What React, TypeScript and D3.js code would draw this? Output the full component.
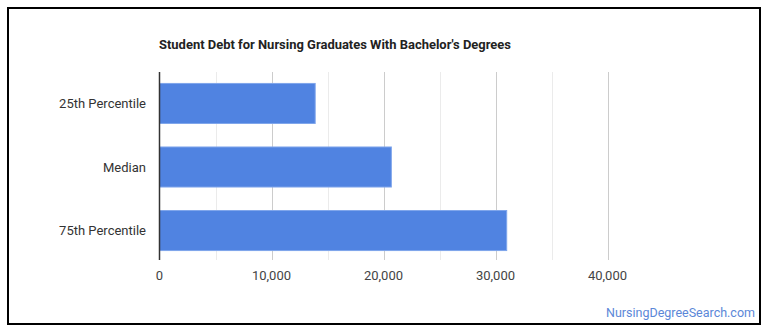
import React from "react";
import * as d3 from "d3";

const title = "Student Debt for Nursing Graduates With Bachelor's Degrees";
const categories = ["25th Percentile", "Median", "75th Percentile"];
const values = [13900, 20700, 31000];
const majorTicks = [0, 10000, 20000, 30000, 40000];
const minorTicks = [5000, 15000, 25000, 35000];
const watermark = "NursingDegreeSearch.com";

export default function App() {
  const W = 770, H = 335;
  const x0 = 159.5, x1 = 607.5;
  const yTop = 72, yBot = 262;
  const x = d3.scaleLinear().domain([0, 40000]).range([x0, x1]);
  const y = d3.scaleBand().domain(categories).range([yTop, yBot]).paddingInner(0.37).paddingOuter(0.18);
  const fmt = d3.format(",");
  const font = "Roboto, 'Noto Sans', sans-serif";
  return (
    <svg width={W} height={H} style={{ position: "absolute", left: 0, top: 0, display: "block" }}>
      <rect x={0} y={0} width={W} height={H} fill="#fff" />
      <rect x={8} y={8} width={752} height={316} fill="#fff" stroke="#000" strokeWidth={2} />
      <text x={159} y={49} fontFamily={font} fontWeight={700} fontSize={12.5} fill="#222" textLength={352} lengthAdjust="spacingAndGlyphs">{title}</text>
      {minorTicks.map(t => (
        <line key={"m" + t} x1={Math.round(x(t)) + 0.5} x2={Math.round(x(t)) + 0.5} y1={yTop} y2={260} stroke="#ebebeb" strokeWidth={1} />
      ))}
      {majorTicks.slice(1).map(t => (
        <line key={"M" + t} x1={Math.round(x(t)) + 0.5} x2={Math.round(x(t)) + 0.5} y1={yTop} y2={260} stroke="#cccccc" strokeWidth={1} />
      ))}
      {categories.map((c, i) => (
        <g key={c}>
          <rect x={x(0)} y={y(c)!} width={x(values[i]) - x(0)} height={y.bandwidth()} fill="#5083e1" stroke="#7fa5eb" strokeWidth={1} />
          <text x={146} y={y(c)! + y.bandwidth() / 2} dy="0.35em" textAnchor="end" fontFamily={font} fontSize={13} fill="#333">{c}</text>
        </g>
      ))}
      <line x1={x0} x2={x0} y1={yTop} y2={260} stroke="#333" strokeWidth={1.5} />
      {majorTicks.map(t => (
        <text key={"t" + t} x={x(t)} y={280} textAnchor="middle" fontFamily={font} fontSize={13} fill="#444">{fmt(t)}</text>
      ))}
      <text x={755} y={317} textAnchor="end" fontFamily={font} fontSize={12.5} fill="#5b87d8">{watermark}</text>
    </svg>
  );
}
